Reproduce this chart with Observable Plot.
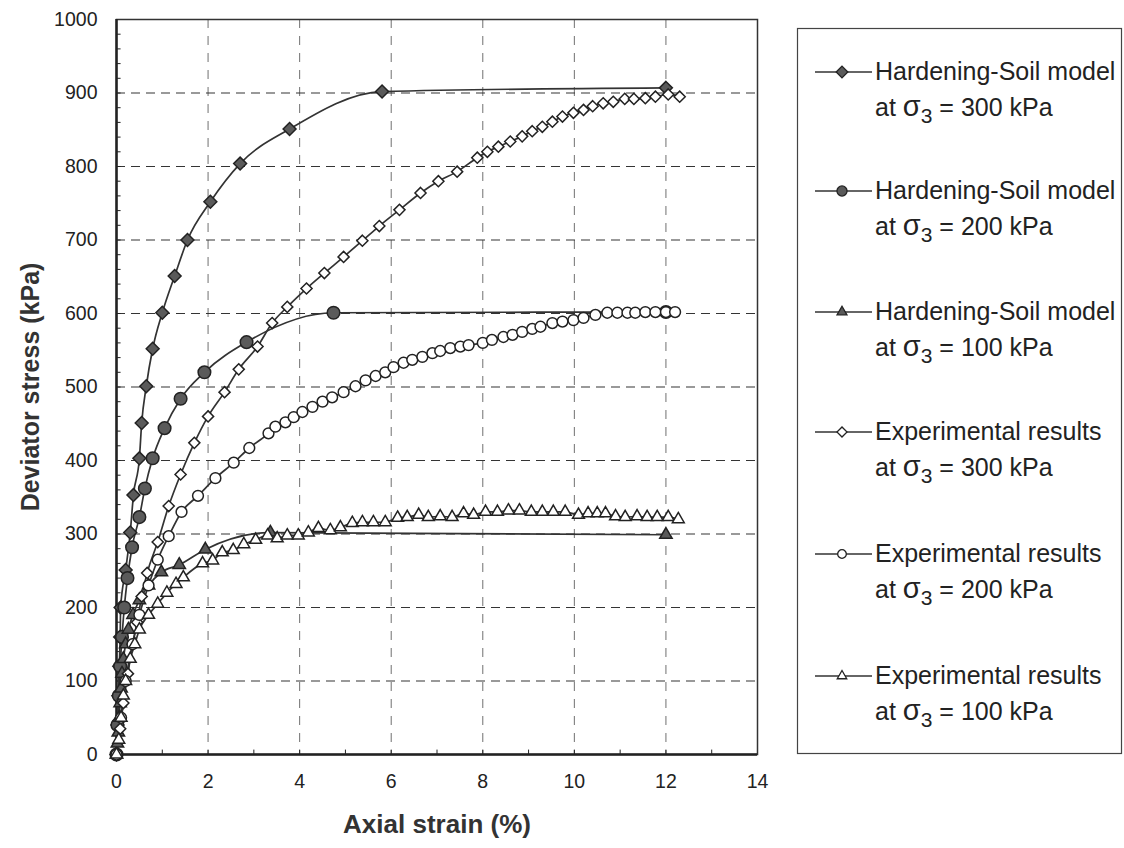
<!DOCTYPE html>
<html>
<head>
<meta charset="utf-8">
<script src="https://cdn.jsdelivr.net/npm/d3@7"></script>
<script src="https://cdn.jsdelivr.net/npm/@observablehq/plot@0.6"></script>
<style>
  html, body { margin: 0; padding: 0; background: #fff; }
  #wrap { position: relative; width: 1124px; height: 848px; }
  #legend { position: absolute; left: 0; top: 0; }
</style>
</head>
<body>
<div id="wrap"><div id="chart"></div><div id="legend"></div></div>
<script>
// ---- Data ----
const xTicks = [0, 2, 4, 6, 8, 10, 12, 14];
const yTicks = [0, 100, 200, 300, 400, 500, 600, 700, 800, 900, 1000];
const xLabel = "Axial strain (%)";
const yLabel = "Deviator stress (kPa)";

// Hardening-Soil model, sigma3 = 300 kPa
const hs300X = [0, 0.02, 0.04, 0.06, 0.08, 0.09, 0.2, 0.3, 0.37, 0.5, 0.55, 0.65, 0.79, 1.0, 1.27, 1.55, 2.05, 2.7, 3.78, 5.8, 12.0];
const hs300Y = [0, 40, 80, 120, 160, 200, 251, 302, 353, 403, 451, 501, 552, 601, 651, 700, 752, 804, 851, 902, 907];
// Hardening-Soil model, sigma3 = 200 kPa
const hs200X = [0, 0.02, 0.05, 0.08, 0.12, 0.17, 0.24, 0.34, 0.5, 0.62, 0.79, 1.05, 1.4, 1.92, 2.84, 4.74, 12.0];
const hs200Y = [0, 40, 80, 120, 160, 200, 240, 282, 323, 362, 403, 444, 484, 520, 561, 601, 602];
// Hardening-Soil model, sigma3 = 100 kPa
const hs100X = [0, 0.02, 0.04, 0.06, 0.08, 0.1, 0.12, 0.15, 0.2, 0.26, 0.36, 0.5, 0.7, 0.98, 1.37, 1.94, 3.36, 12.0];
const hs100Y = [0, 15, 30, 50, 70, 90, 110, 130, 150, 170, 190, 210, 230, 248, 258, 279, 302, 299];
// Experimental results, sigma3 = 300 kPa
const ex300X = [0, 0.08, 0.15, 0.25, 0.35, 0.45, 0.55, 0.67, 0.9, 1.14, 1.4, 1.7, 2.0, 2.36, 2.67, 3.08, 3.4, 3.73, 4.15, 4.54, 4.96, 5.37, 5.74, 6.18, 6.64, 7.03, 7.44, 7.88, 8.1, 8.34, 8.6, 8.86, 9.08, 9.3, 9.52, 9.74, 9.98, 10.2, 10.4, 10.63, 10.85, 11.1, 11.3, 11.55, 11.77, 12.05, 12.3];
const ex300Y = [0, 35, 70, 110, 150, 180, 215, 247, 289, 338, 381, 424, 460, 493, 524, 555, 587, 609, 634, 655, 677, 699, 719, 741, 764, 780, 793, 812, 820, 827, 834, 841, 848, 854, 861, 868, 873, 877, 882, 886, 888, 892, 892, 893, 895, 898, 895];
// Experimental results, sigma3 = 200 kPa
const ex200X = [0, 0.1, 0.2, 0.35, 0.5, 0.7, 0.9, 1.14, 1.42, 1.78, 2.16, 2.56, 2.9, 3.32, 3.47, 3.69, 3.87, 4.06, 4.28, 4.5, 4.71, 4.96, 5.22, 5.44, 5.66, 5.87, 6.05, 6.27, 6.46, 6.68, 6.9, 7.07, 7.29, 7.51, 7.69, 8.0, 8.2, 8.45, 8.65, 8.86, 9.08, 9.26, 9.52, 9.74, 9.98, 10.2, 10.46, 10.72, 10.94, 11.16, 11.33, 11.55, 11.77, 12.0, 12.2];
const ex200Y = [0, 50, 100, 150, 190, 230, 265, 297, 330, 352, 376, 397, 417, 437, 446, 452, 459, 466, 473, 480, 486, 493, 501, 509, 515, 520, 527, 533, 537, 541, 546, 549, 553, 555, 557, 560, 564, 568, 571, 575, 579, 582, 587, 589, 591, 594, 598, 601, 601, 601, 601, 602, 602, 602, 602];
// Experimental results, sigma3 = 100 kPa
const ex100X = [0, 0.05, 0.1, 0.15, 0.2, 0.3, 0.4, 0.5, 0.7, 0.9, 1.1, 1.3, 1.46, 1.88, 2.1, 2.31, 2.55, 2.78, 3.04, 3.3, 3.51, 3.73, 3.97, 4.19, 4.41, 4.67, 4.89, 5.15, 5.37, 5.61, 5.87, 6.14, 6.35, 6.6, 6.81, 7.07, 7.33, 7.58, 7.8, 8.06, 8.32, 8.56, 8.8, 9.06, 9.3, 9.54, 9.8, 10.09, 10.3, 10.5, 10.68, 10.9, 11.11, 11.37, 11.59, 11.81, 12.05, 12.27];
const ex100Y = [0, 20, 50, 80, 100, 130, 150, 170, 190, 205, 220, 232, 241, 260, 264, 275, 278, 286, 292, 298, 294, 298, 298, 302, 308, 305, 309, 315, 316, 316, 316, 322, 323, 326, 323, 324, 323, 328, 326, 330, 330, 332, 332, 330, 330, 330, 330, 326, 328, 328, 328, 324, 323, 324, 323, 323, 323, 320];

const seriesNames = [
  "Hardening-Soil model", "Hardening-Soil model", "Hardening-Soil model",
  "Experimental results", "Experimental results", "Experimental results"
];
const seriesSigma = ["300", "200", "100", "300", "200", "100"];

// ---- Styles ----
const darkFill = "#5a5a5a";
const lineCol = "#333";
const series = [
  {xs: hs300X, ys: hs300Y, symbol: "diamond2", r: 5.8, fill: darkFill},
  {xs: hs200X, ys: hs200Y, symbol: "circle", r: 6.3, fill: darkFill},
  {xs: hs100X, ys: hs100Y, symbol: "triangle", r: 4.6, fill: darkFill},
  {xs: ex300X, ys: ex300Y, symbol: "diamond2", r: 5.0, fill: "white"},
  {xs: ex200X, ys: ex200Y, symbol: "circle", r: 5.4, fill: "white"},
  {xs: ex100X, ys: ex100Y, symbol: "triangle", r: 4.4, fill: "white"}
];
const rows = s => s.xs.map((x, i) => ({x, y: s.ys[i]}));

const minorY = d3.range(0, 1001, 20);
const minorX = d3.range(0, 15, 1);

const marks = [
  Plot.gridY(yTicks.filter(d => d > 0 && d < 1000), {stroke: "#111", strokeOpacity: 0.85, strokeDasharray: "9,6", strokeWidth: 1.2}),
  Plot.gridX(xTicks.filter(d => d > 0 && d < 14), {stroke: "#333", strokeOpacity: 0.7, strokeDasharray: "9,8", strokeWidth: 1}),
  Plot.ruleY(minorY, {x1: 0, x2: 0.1, stroke: "#222", strokeWidth: 1}),
  Plot.ruleX(minorX, {y1: 0, y2: 6, stroke: "#222", strokeWidth: 1}),
  Plot.frame({stroke: "#333", strokeWidth: 1.5}),
  Plot.ruleX([0], {stroke: "#222", strokeWidth: 2.5}),
  Plot.ruleY([0], {stroke: "#222", strokeWidth: 2.5}),
  Plot.axisY(yTicks, {tickSize: 0, tickPadding: 19, fontSize: 19.5, tickFormat: d => String(d), label: null}),
  Plot.axisX(xTicks, {tickSize: 0, tickPadding: 20, fontSize: 19.5, tickFormat: d => String(d), label: null}),
  Plot.text([yLabel], {frameAnchor: "left", textAnchor: "middle", dx: -86, rotate: -90, fontWeight: "bold", fontSize: 25, fill: "#333"}),
  Plot.text([xLabel], {frameAnchor: "bottom", textAnchor: "middle", dy: 78, fontWeight: "bold", fontSize: 26, fill: "#333"})
];
for (const s of series) {
  marks.push(Plot.line(rows(s), {x: "x", y: "y", curve: "monotone-x", stroke: lineCol, strokeWidth: 1.7}));
}
for (const s of series) {
  marks.push(Plot.dot(rows(s), {x: "x", y: "y", symbol: s.symbol, r: s.r, fill: s.fill, stroke: "#222", strokeWidth: 1.5}));
}

const chart = Plot.plot({
  width: 1124,
  height: 848,
  marginLeft: 116,
  marginRight: 367,
  marginTop: 19,
  marginBottom: 94,
  style: {fontFamily: "'Liberation Sans', Arial, sans-serif", fontSize: "19px", background: "white", color: "#222"},
  x: {domain: [0, 14]},
  y: {domain: [0, 1000]},
  marks
});
document.getElementById("chart").appendChild(chart);

// ---- Legend ----
const L = d3.select("#legend").append("svg")
  .attr("width", 1124).attr("height", 848)
  .style("font-family", "'Liberation Sans', Arial, sans-serif");
L.append("rect").attr("x", 797.5).attr("y", 28.5).attr("width", 324).attr("height", 725)
  .attr("fill", "white").attr("stroke", "#444").attr("stroke-width", 1.2);
const symMap = {diamond2: d3.symbolSquare, circle: d3.symbolCircle, triangle: d3.symbolTriangle};
const rowY = [72, 191, 312, 432, 554, 676];
series.forEach((s, i) => {
  const g = L.append("g").attr("transform", `translate(0,${rowY[i]})`);
  g.append("line").attr("x1", 815).attr("x2", 872).attr("y1", 0).attr("y2", 0)
    .attr("stroke", lineCol).attr("stroke-width", 1.6);
  const r = s.r * 0.8;
  g.append("path").attr("d", d3.symbol(symMap[s.symbol], Math.PI * r * r)())
    .attr("transform", `translate(842,0)${s.symbol === "diamond2" ? " rotate(45)" : ""}`)
    .attr("fill", s.fill).attr("stroke", "#222").attr("stroke-width", 1.3);
  g.append("text").attr("x", 875).attr("y", 8).attr("font-size", 25).attr("fill", "#222")
    .text(seriesNames[i]);
  const t = g.append("text").attr("x", 875).attr("y", 44).attr("font-size", 25).attr("fill", "#222");
  t.append("tspan").text("at ");
  t.append("tspan").attr("font-size", 29).text("σ");
  t.append("tspan").attr("dy", 7).attr("font-size", 21).text("3");
  t.append("tspan").attr("dy", -7).text(" = " + seriesSigma[i] + " kPa");
});
</script>
</body>
</html>
